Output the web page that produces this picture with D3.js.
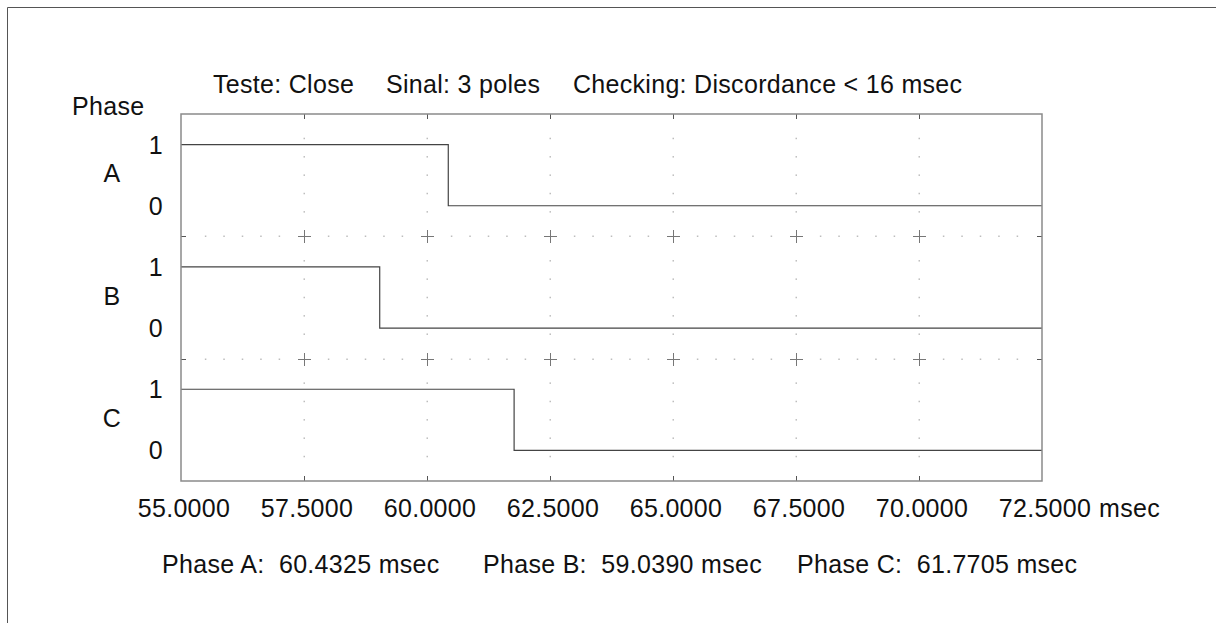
<!DOCTYPE html>
<html>
<head>
<meta charset="utf-8">
<script src="https://cdn.jsdelivr.net/npm/d3@7"></script>
<style>
    body { margin: 0; background: #fff; }
    svg { display: block; font-family: 'Liberation Sans', Arial, sans-serif; }
</style>
</head>
<body>
<svg id="chart" width="1216" height="623"></svg>
<script>
// chart values
const phases = ['A', 'B', 'C'];
const transitions = [60.4325, 59.039, 61.7705];
const xDomain = [55, 72.5];
const xTicks = [55, 57.5, 60, 62.5, 65, 67.5, 70, 72.5];
const levelTicks = [1, 0];
const titleParts = ['Teste: Close', 'Sinal: 3 poles', 'Checking: Discordance < 16 msec'];
const unitLabel = 'msec';

const WIDTH = 1216;
const HEIGHT = 623;
const PLOT = { left: 181, top: 114, right: 1042, bottom: 481 };
const FONT_SIZE = 25;
const TICK_LEN = 5;
const CROSS = 6.5;
const DOT_FRACTIONS = [0.2, 0.35, 0.5, 0.65, 0.8];

const svg = d3.select('#chart');

const x = d3.scaleLinear().domain(xDomain).range([PLOT.left, PLOT.right]);
const band = d3
    .scaleBand()
    .domain(phases)
    .range([PLOT.top, PLOT.bottom]);

// level scale inside one band, 0 and 1 sit a quarter in from the edges
const levelY = (phase, v) =>
    d3
        .scaleLinear()
        .domain([-0.5, 1.5])
        .range([band(phase) + band.bandwidth(), band(phase)])(v);

// outer frame, only its top and left edges show
svg.append('line')
    .attr('x1', 7.5).attr('y1', 7.5).attr('x2', WIDTH).attr('y2', 7.5)
    .attr('stroke', '#555');
svg.append('line')
    .attr('x1', 7.5).attr('y1', 7.5).attr('x2', 7.5).attr('y2', HEIGHT)
    .attr('stroke', '#555');

// dotted grid
const grid = svg.append('g').attr('fill', '#bdbdbd');
const innerTicks = xTicks.slice(1, -1);

phases.forEach((p) => {
    const y0 = band(p);
    const y1 = y0 + band.bandwidth();
    innerTicks.forEach((t) => {
        DOT_FRACTIONS.forEach((f) => {
            grid.append('rect')
                .attr('x', Math.round(x(t)) - 0.5)
                .attr('y', y0 + f * (y1 - y0) - 0.75)
                .attr('width', 1.5)
                .attr('height', 1.5);
        });
    });
});

const boundaries = phases.slice(1).map((p) => band(p));
boundaries.forEach((by) => {
    d3.pairs(xTicks).forEach(([a, b]) => {
        DOT_FRACTIONS.forEach((f) => {
            grid.append('rect')
                .attr('x', x(a) + f * (x(b) - x(a)) - 0.75)
                .attr('y', Math.round(by) - 0.5)
                .attr('width', 1.5)
                .attr('height', 1.5);
        });
    });
});

// crosses at grid intersections
const crosses = svg.append('g')
    .attr('stroke', '#777')
    .attr('stroke-width', 1)
    .attr('shape-rendering', 'crispEdges');
boundaries.forEach((by) => {
    innerTicks.forEach((t) => {
        const cx = Math.round(x(t)) + 0.5;
        const cy = Math.round(by) + 0.5;
        crosses.append('line')
            .attr('x1', cx - CROSS).attr('x2', cx + CROSS)
            .attr('y1', cy).attr('y2', cy);
        crosses.append('line')
            .attr('x1', cx).attr('x2', cx)
            .attr('y1', cy - CROSS).attr('y2', cy + CROSS);
    });
});

// inner ticks on the plot frame
const ticks = svg.append('g')
    .attr('stroke', '#555')
    .attr('shape-rendering', 'crispEdges');
innerTicks.forEach((t) => {
    const tx = Math.round(x(t)) + 0.5;
    ticks.append('line').attr('x1', tx).attr('x2', tx)
        .attr('y1', PLOT.top).attr('y2', PLOT.top + TICK_LEN);
    ticks.append('line').attr('x1', tx).attr('x2', tx)
        .attr('y1', PLOT.bottom).attr('y2', PLOT.bottom - TICK_LEN);
});
boundaries.forEach((by) => {
    const ty = Math.round(by) + 0.5;
    ticks.append('line').attr('x1', PLOT.left).attr('x2', PLOT.left + TICK_LEN)
        .attr('y1', ty).attr('y2', ty);
    ticks.append('line').attr('x1', PLOT.right).attr('x2', PLOT.right - TICK_LEN)
        .attr('y1', ty).attr('y2', ty);
});

// step traces
const line = d3
    .line()
    .x((d) => x(d.t))
    .y((d) => d.y)
    .curve(d3.curveStepAfter);

phases.forEach((p, i) => {
    const pts = [
        { t: xDomain[0], y: levelY(p, 1) },
        { t: transitions[i], y: levelY(p, 0) },
        { t: xDomain[1], y: levelY(p, 0) },
    ];
    svg.append('path')
        .datum(pts)
        .attr('d', line)
        .attr('fill', 'none')
        .attr('stroke', '#444')
        .attr('stroke-width', 1.2);
});

// plot frame
svg.append('rect')
    .attr('x', PLOT.left)
    .attr('y', PLOT.top)
    .attr('width', PLOT.right - PLOT.left)
    .attr('height', PLOT.bottom - PLOT.top)
    .attr('fill', 'none')
    .attr('stroke', '#8a8a8a')
    .attr('stroke-width', 1.5);

// texts
const text = svg.append('g')
    .attr('font-size', FONT_SIZE)
    .attr('letter-spacing', 0.3)
    .attr('fill', '#111');

const titleX = [213, 386, 573];
titleParts.forEach((s, i) => {
    text.append('text').attr('x', titleX[i]).attr('y', 93).text(s);
});

text.append('text').attr('x', 72).attr('y', 115).text('Phase');

phases.forEach((p) => {
    text.append('text')
        .attr('x', 112)
        .attr('y', band(p) + band.bandwidth() / 2 - 2)
        .attr('text-anchor', 'middle')
        .attr('dominant-baseline', 'central')
        .text(p);
    levelTicks.forEach((v) => {
        text.append('text')
            .attr('x', 163)
            .attr('y', levelY(p, v))
            .attr('text-anchor', 'end')
            .attr('dominant-baseline', 'central')
            .text(v);
    });
});

const fmt = d3.format('.4f');
xTicks.forEach((t) => {
    text.append('text')
        .attr('x', x(t) + 3)
        .attr('y', 517)
        .attr('text-anchor', 'middle')
        .text(fmt(t));
});
text.append('text')
    .attr('x', x(xDomain[1]) + 57)
    .attr('y', 517)
    .text(unitLabel);

const summaryX = [162, 483, 797];
phases.forEach((p, i) => {
    text.append('text')
        .attr('x', summaryX[i])
        .attr('y', 573)
        .attr('xml:space', 'preserve')
        .text(`Phase ${p}:  ${transitions[i].toFixed(4)} ${unitLabel}`);
});
</script>
</body>
</html>
